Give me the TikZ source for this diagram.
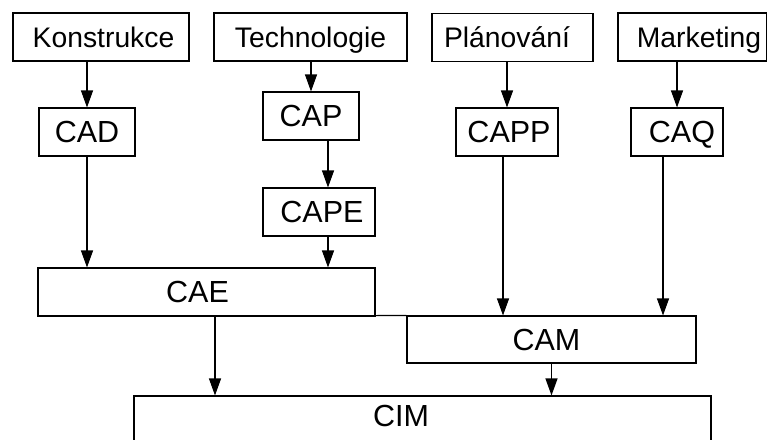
\documentclass[tikz,border=0pt]{standalone}
\usepackage{fontspec}
\setmainfont{Liberation Sans}
\usetikzlibrary{arrows.meta}
\tikzset{
  box/.style={draw=black, line width=1.1pt, fill=white, inner sep=0pt, anchor=center},
  toplbl/.style={box, font=\fontsize{28.3}{30}\selectfont, minimum height=48pt, text height=20.3pt, text depth=0pt},
  calbl/.style={box, font=\fontsize{30.5}{32}\selectfont, minimum height=48pt, text height=21.8pt, text depth=0pt},
  arr/.style={line width=1.1pt, -{Triangle[length=17pt,width=12pt]}},
  conn/.style={line width=1.1pt}
}
\begin{document}
\begin{tikzpicture}[x=1pt,y=-1pt]
\useasboundingbox (0,0) rectangle (767,439);
\clip (0,0) rectangle (767,439);
\fill[white] (0,0) rectangle (767,439);
% top row
\node[toplbl, minimum width=176pt] (konstrukce) at (101,37) {\hspace*{5pt}Konstrukce};
\node[toplbl, minimum width=193pt] (technologie) at (310.5,37) {Technologie};
\node[toplbl, minimum width=161pt] (planovani) at (512.5,37.5) {Plánování\hspace*{11pt}};
\node[toplbl, minimum width=149pt] (marketing) at (692.5,37) {\hspace*{13pt}Marketing};
% second row
\node[calbl, minimum width=96pt] (cad) at (87,132) {CAD};
\node[calbl, minimum width=96pt] (cap) at (311,116) {CAP};
\node[calbl, minimum width=112pt] (cape) at (319,212) {\hspace*{6pt}CAPE};
\node[calbl, minimum width=102pt] (capp) at (507,132) {\hspace*{4pt}CAPP};
\node[calbl, minimum width=92pt] (caq) at (677,132) {\hspace*{10pt}CAQ};
% lower
\node[calbl, minimum width=337pt] (cae) at (206.5,292) {\hspace*{-18pt}CAE};
\node[calbl, minimum width=289pt, minimum height=47pt] (cam) at (551.5,339.5) {\hspace*{-10pt}CAM};
\node[box, minimum width=577pt, minimum height=64pt] (cim) at (422.5,428) {};
\node[font=\fontsize{30.5}{32}\selectfont, inner sep=0pt, text height=21.8pt, text depth=0pt] (cimtext) at (401,416) {CIM};
% arrows
\draw[arr] (konstrukce.south -| cad.north) -- (cad.north);
\draw[arr] (technologie.south -| cap.north) -- (cap.north);
\draw[arr] (planovani.south -| capp.north) -- (capp.north);
\draw[arr] (marketing.south -| caq.north) -- (caq.north);
\draw[arr] ([xshift=17pt]cap.south) -- ([xshift=17pt]cap.south |- cape.north);
\draw[arr] ([xshift=9pt]cape.south) -- ([xshift=9pt]cape.south |- cae.north);
\draw[arr] (cad.south) -- (cad.south |- cae.north);
\draw[arr] ([xshift=-4pt]capp.south) -- ([xshift=-4pt]capp.south |- cam.north);
\draw[arr] ([xshift=-14pt]caq.south) -- ([xshift=-14pt]caq.south |- cam.north);
\draw[arr] ([xshift=8.5pt]cae.south) -- ([xshift=8.5pt]cae.south |- cim.north);
\draw[arr] (cam.south) -- (cam.south |- cim.north);
\draw[conn] ([yshift=1pt]cae.south east) -- (cam.north west);
\end{tikzpicture}
\end{document}
